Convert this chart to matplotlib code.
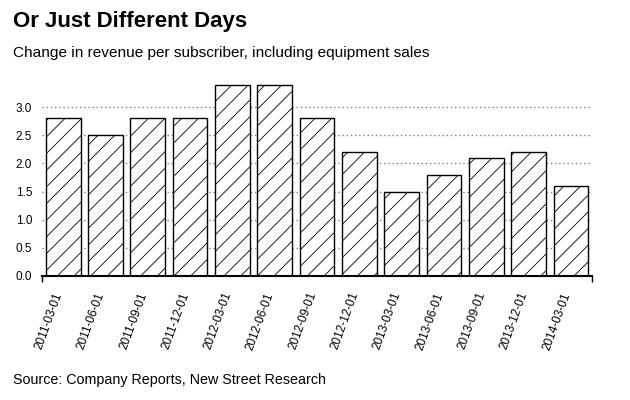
import matplotlib
matplotlib.use("Agg")
import matplotlib.pyplot as plt
import matplotlib.transforms as mtransforms
import numpy as np

plt.rcParams['font.family'] = ['Liberation Sans', 'DejaVu Sans']
plt.rcParams['hatch.linewidth'] = 0.6

dates = ["2011-03-01", "2011-06-01", "2011-09-01", "2011-12-01", "2012-03-01",
         "2012-06-01", "2012-09-01", "2012-12-01", "2013-03-01", "2013-06-01",
         "2013-09-01", "2013-12-01", "2014-03-01"]
values = [2.8, 2.5, 2.8, 2.8, 3.4, 3.4, 2.8, 2.2, 1.5, 1.8, 2.1, 2.2, 1.6]
yticks = [0.0, 0.5, 1.0, 1.5, 2.0, 2.5, 3.0]

fig = plt.figure(figsize=(6.3, 4.0), dpi=100)
ax = fig.add_axes([0.0667, 0.31, 0.8733, 0.4855])

x = np.arange(len(values))
ax.bar(x, values, width=0.82, color='white', edgecolor='black', linewidth=1.0,
       hatch='//', zorder=3)

ax.set_xlim(-0.5, len(values) - 0.5)
ax.set_ylim(0, 3.45)
ax.set_yticks(yticks)
ax.set_yticklabels([f"{v:.1f}" for v in yticks], fontsize=8.5)
ax.tick_params(axis='y', length=0, pad=7)
ax.yaxis.grid(True, linestyle=(0, (1, 2)), color='#808080', linewidth=1.0, zorder=0)
ax.set_axisbelow(True)

ax.set_xticks(x)
ax.set_xticklabels(dates, rotation=70, ha='right', va='center',
                   rotation_mode='anchor', fontsize=8.5)
ax.tick_params(axis='x', length=0, pad=12)
offset = mtransforms.ScaledTranslation(-4 / 100, 0, fig.dpi_scale_trans)
for lbl in ax.get_xticklabels():
    lbl.set_transform(lbl.get_transform() + offset)
ax.set_xticks([-0.5, len(values) - 0.5], minor=True)
ax.tick_params(axis='x', which='minor', length=4, width=1.0, direction='out')

for s in ['top', 'right', 'left']:
    ax.spines[s].set_visible(False)
ax.spines['bottom'].set_linewidth(1.5)
ax.spines['bottom'].set_zorder(4)

fig.text(0.021, 0.932, "Or Just Different Days", fontsize=16, fontweight='bold',
         ha='left', va='baseline')
fig.text(0.021, 0.858, "Change in revenue per subscriber, including equipment sales",
         fontsize=11.1, ha='left', va='baseline')
fig.text(0.021, 0.04, "Source: Company Reports, New Street Research",
         fontsize=10.3, ha='left', va='baseline')

fig.savefig("out.png", dpi=100)
